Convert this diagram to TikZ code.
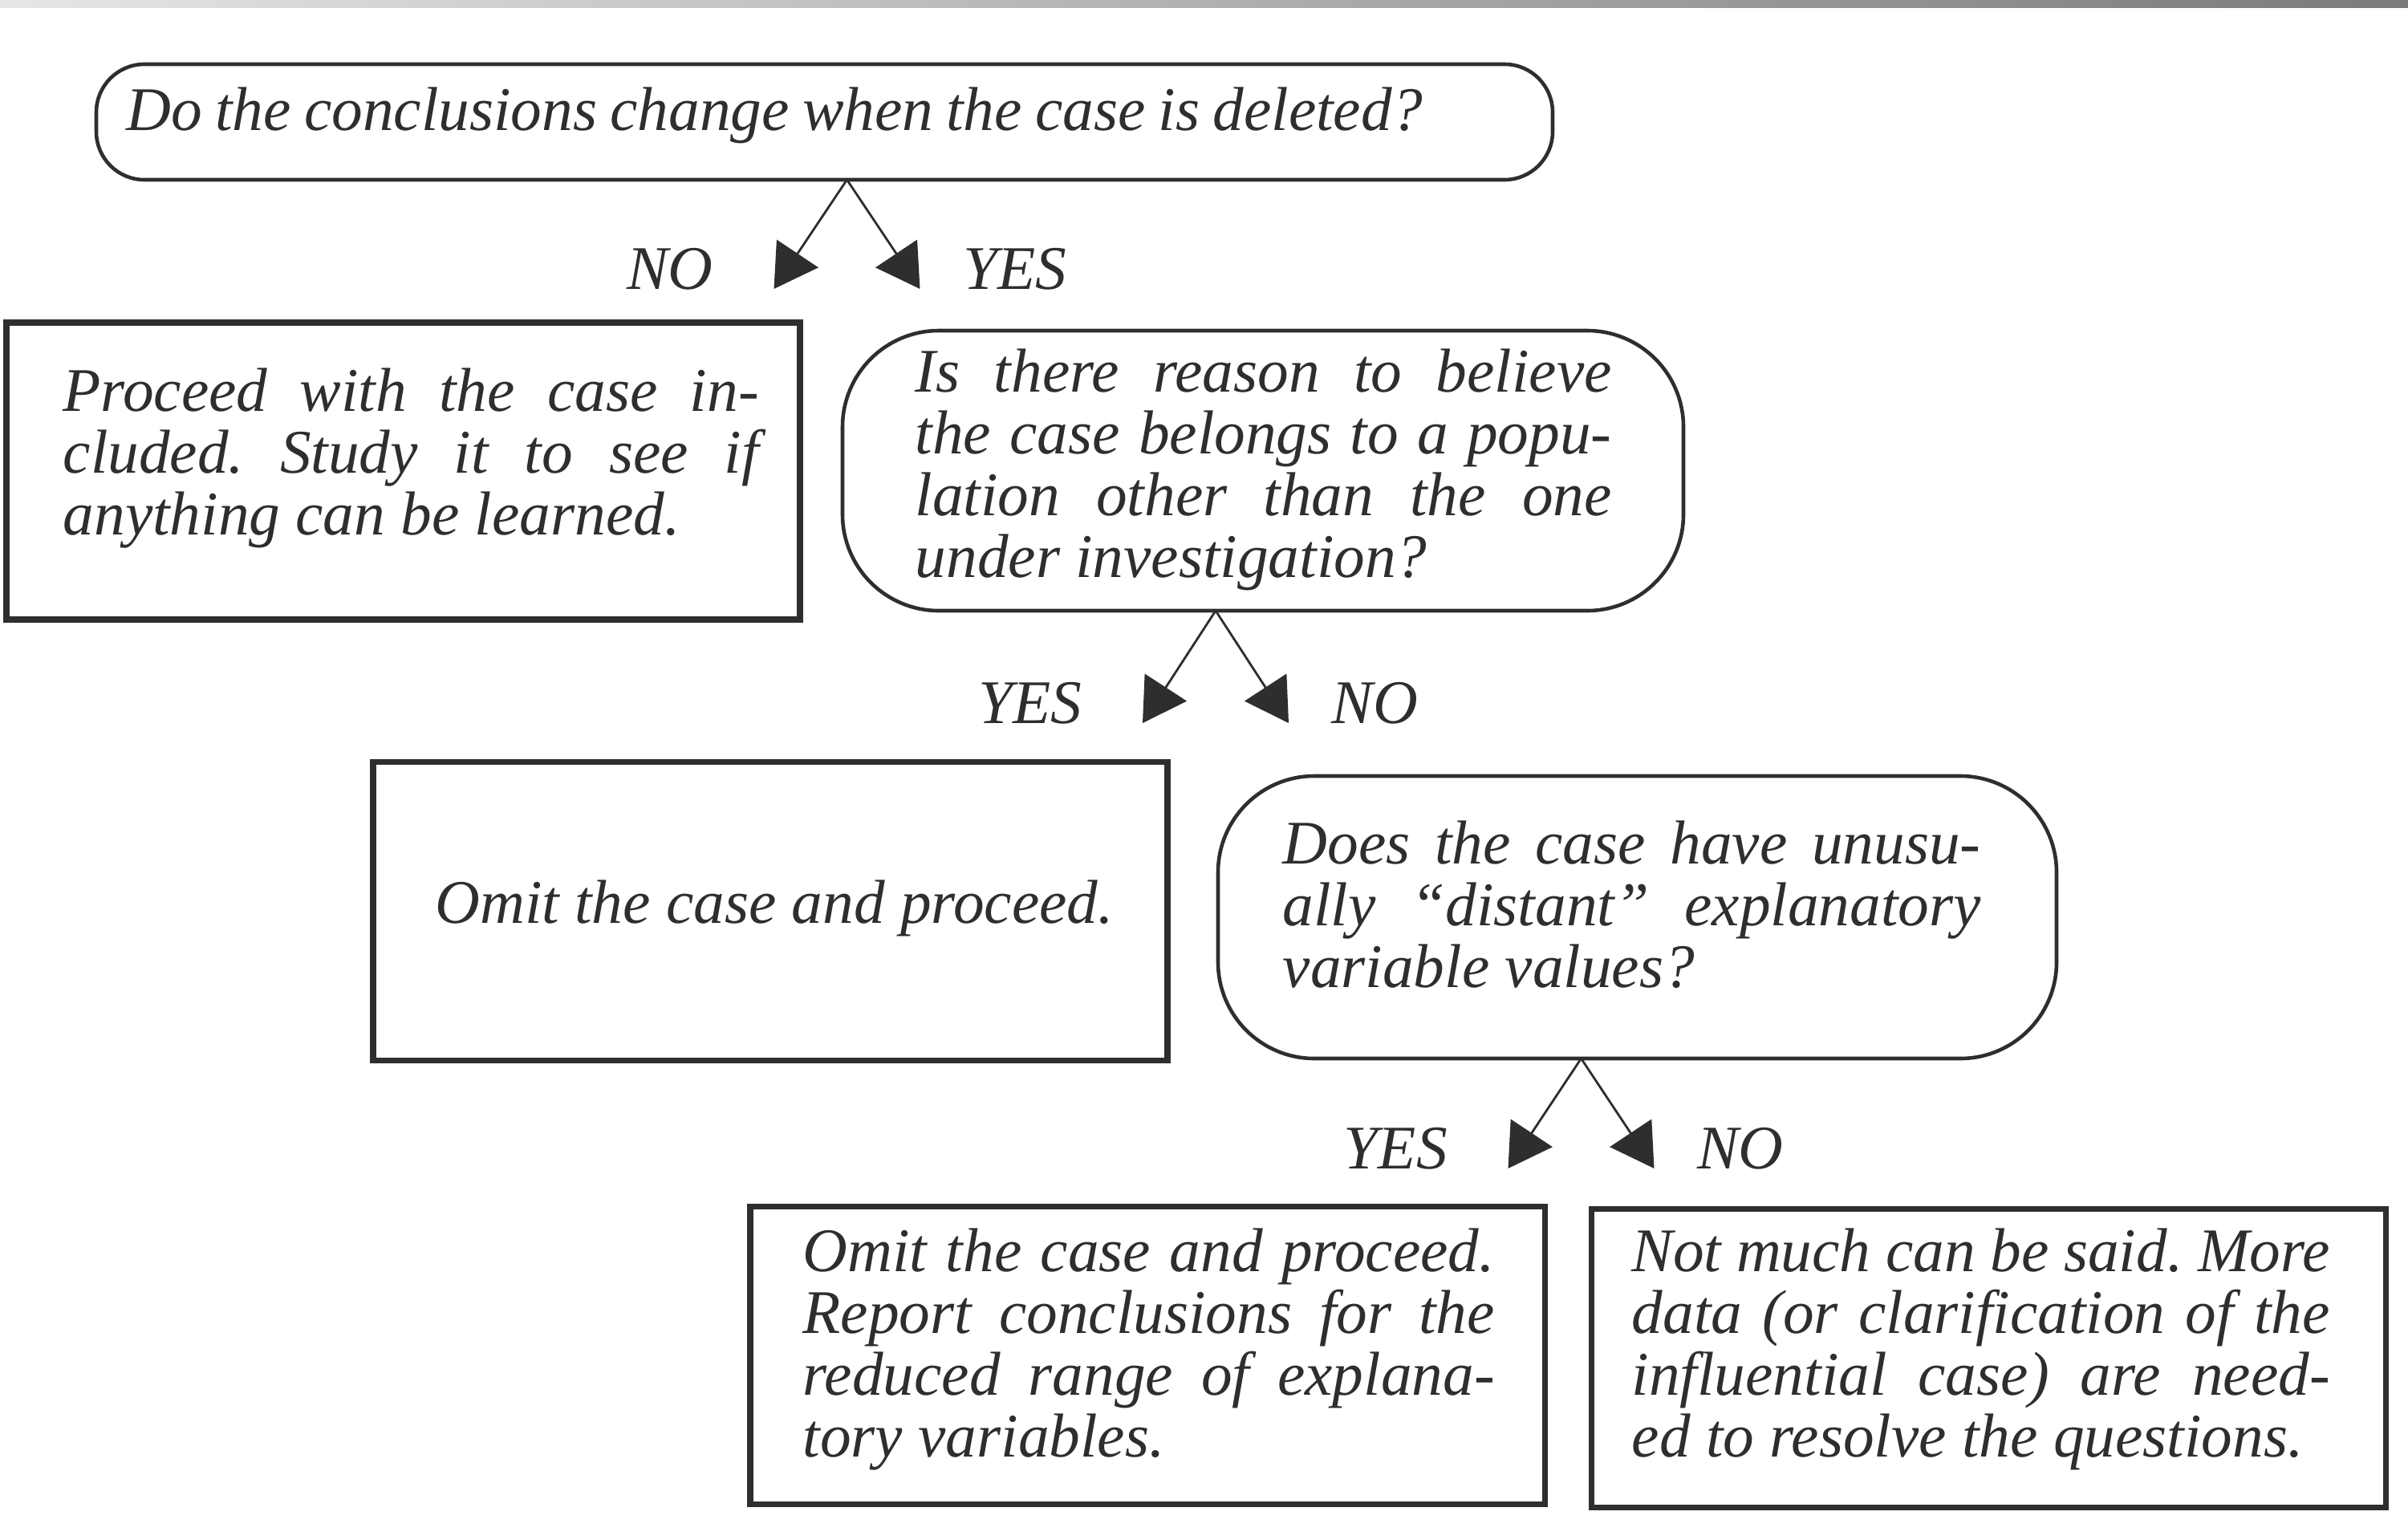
\documentclass[tikz,border=0pt]{standalone}
\usepackage{fontspec}
\setmainfont{Liberation Serif}
\usepackage{tikz}
\usetikzlibrary{arrows.meta}
\usetikzlibrary{calc}
\definecolor{ink}{HTML}{2E2E2E}
\definecolor{scanlo}{HTML}{E6E6E6}
\definecolor{scanhi}{HTML}{7A7A7A}
\frenchspacing

\begin{document}
\begin{tikzpicture}[
  dep/.style={
    -{Triangle[length=5.3mm,width=6.2mm]},line width=0.8pt,draw=ink
  },
  ask/.style 2 args={
    rectangle,
    draw=ink,
    line width=1.3pt,
    rounded corners=12mm,
    minimum width=#1,
    minimum height=#2,
    outer sep=0pt},
  act/.style 2 args={
    rectangle,
    draw=ink,
    line width=2pt,
    minimum width=#1,
    minimum height=#2,
    outer sep=0pt},
  txt/.style={
    text width=#1,
    align=justify,
    inner sep=0pt,
    anchor=base west},
  lbl/.style={inner sep=0pt},
  every node/.style={font=\fontsize{22}{22}\selectfont\itshape,text=ink},
]

  \useasboundingbox (0,0) rectangle (30.01,-19.19);

  % edge of the scanned page
  \shade[left color=scanlo,right color=scanhi] (0,0) rectangle (30.01,-0.09);

  % Questions
  \node[ask={18.15cm}{1.44cm},rounded corners=6mm] (q1) at (10.275,-1.52) {};
  \node[txt=17.5cm,align=left] (q1t) at (1.57,-1.62)
    {\spaceskip=0.21em Do the conclusions change when the case is deleted?};

  \node[ask={10.48cm}{3.49cm}] (q2) at (15.74,-5.865) {};
  \node[txt=8.68cm] (q2t) at (11.40,-4.88)
    {Is there reason to believe\linebreak the case belongs to a popu-\linebreak
     lation other than the one\linebreak under investigation?};

  \node[ask={10.45cm}{3.52cm}] (q3) at (20.405,-11.43) {};
  \node[txt=8.70cm] (q3t) at (15.98,-10.76)
    {Does the case have unusu-\linebreak ally ``distant'' explanatory\linebreak
     variable values?};

  % Outcomes
  \node[act={9.89cm}{3.70cm}] (p1) at (5.025,-5.87) {};
  \node[txt=8.67cm] (p1t) at (0.78,-5.12)
    {Proceed with the case in-\linebreak cluded. Study it to see if\linebreak
     anything can be learned.};

  \node[act={9.90cm}{3.72cm}] (p2) at (9.60,-11.35) {};
  \node[lbl,anchor=base] (p2t) at (9.65,-11.50) {Omit the case and proceed.};

  \node[act={9.90cm}{3.71cm}] (p3) at (14.30,-16.885) {};
  \node[txt=8.62cm] (p3t) at (10.00,-15.84)
    {Omit the case and proceed.\linebreak Report conclusions for the\linebreak
     reduced range of explana-\linebreak tory variables.};

  \node[act={9.90cm}{3.72cm}] (p4) at (24.78,-16.92) {};
  \node[txt=8.70cm] (p4t) at (20.33,-15.84)
    {Not much can be said. More\linebreak data (or clarification of the\linebreak
     influential case) are need-\linebreak ed to resolve the questions.};

  % Branches
  \foreach \q/\dx/\dy/\l/\r in {q1/2.8/1.36/NO/YES,q2/-5.9/1.40/YES/NO,q3/-7.0/1.37/YES/NO} {
    \coordinate (\q-a) at ([xshift=\dx mm]\q.south);
    \coordinate (\q-l) at ($(\q-a)+(-0.91,-\dy)$);
    \coordinate (\q-r) at ($(\q-a)+(0.91,-\dy)$);
    \draw[dep] (\q-a) -- (\q-l);
    \draw[dep] (\q-a) -- (\q-r);
    \node[lbl,anchor=base east] (\q-nl) at ([xshift=-7.5mm]\q-l) {\l};
    \node[lbl,anchor=base west] (\q-nr) at ([xshift=5.3mm]\q-r) {\r};
  }

\end{tikzpicture}
\end{document}
